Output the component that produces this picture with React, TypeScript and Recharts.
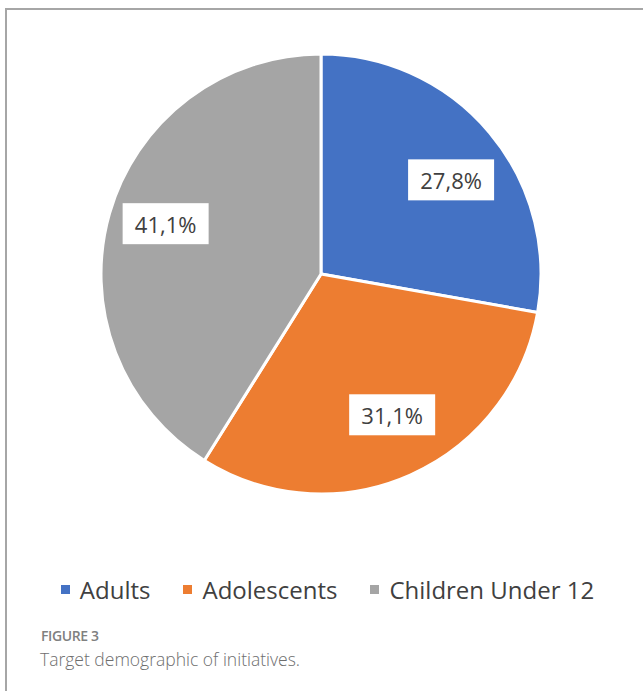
import { Cell, Legend, Pie, PieChart } from "recharts";

const CATEGORIAS = ["Adults", "Adolescents", "Children Under 12"];
const VALORES = [27.8, 31.1, 41.1];
const ETIQUETAS = ["27,8%", "31,1%", "41,1%"];
const COLORES = ["#4472c4", "#ed7d31", "#a5a5a5"];

const FUENTE = "'Open Sans', 'Noto Sans', sans-serif";
const TINTA = "#404040";
const BORDE = "#a6a6a6";

// pequeño corrimiento de cada caja (Excel no las centra exacto en el ángulo medio)
const AJUSTE_ETIQUETA = [
  { dx: 7, dy: 9 },
  { dx: 6, dy: -6 },
  { dx: -1, dy: -6 },
];

const data = CATEGORIAS.map((nombre, i) => ({
  nombre,
  valor: VALORES[i],
  etiqueta: ETIQUETAS[i],
}));

const RAD = Math.PI / 180;

function EtiquetaCaja(props: {
  cx?: number;
  cy?: number;
  midAngle?: number;
  outerRadius?: number;
  index?: number;
}) {
  const { cx = 0, cy = 0, midAngle = 0, outerRadius = 0, index = 0 } = props;
  const r = outerRadius * 0.73;
  const aj = AJUSTE_ETIQUETA[index] ?? { dx: 0, dy: 0 };
  const x = cx + r * Math.cos(-midAngle * RAD) + aj.dx;
  const y = cy + r * Math.sin(-midAngle * RAD) + aj.dy;
  const w = 86;
  const h = 41;
  return (
    <g>
      <rect x={x - w / 2} y={y - h / 2} width={w} height={h} fill="#ffffff" />
      <text
        x={x}
        y={y}
        textAnchor="middle"
        dominantBaseline="central"
        fill={TINTA}
        fontSize={22}
        fontFamily={FUENTE}
      >
        {data[index].etiqueta}
      </text>
    </g>
  );
}

function Leyenda() {
  return (
    <div
      style={{
        display: "flex",
        justifyContent: "center",
        gap: 33,
        fontFamily: FUENTE,
        fontSize: 24,
        color: TINTA,
        marginLeft: 12,
      }}
    >
      {CATEGORIAS.map((c, i) => (
        <span key={c} style={{ display: "flex", alignItems: "center" }}>
          <span
            style={{
              display: "inline-block",
              width: 9,
              height: 9,
              background: COLORES[i],
              marginRight: 10,
            }}
          />
          {c}
        </span>
      ))}
    </div>
  );
}

export default function App() {
  return (
    <div
      style={{
        position: "fixed",
        left: 0,
        top: 0,
        width: 643,
        height: 691,
        overflow: "hidden",
        background: "#ffffff",
      }}
    >
      {/* marco de la figura: solo se ven el borde superior y el izquierdo */}
      <div style={{ position: "absolute", left: 5, top: 8, width: 638, height: 2, background: BORDE }} />
      <div style={{ position: "absolute", left: 5, top: 8, width: 2, height: 683, background: BORDE }} />
      <div style={{ position: "absolute", left: 0, top: 0 }}>
        <PieChart width={643} height={620} margin={{ top: 0, right: 0, bottom: 0, left: 0 }}>
          <Pie
            data={data}
            dataKey="valor"
            nameKey="nombre"
            cx={321}
            cy={274}
            outerRadius={220}
            startAngle={90}
            endAngle={-270}
            stroke="#ffffff"
            strokeWidth={3}
            label={EtiquetaCaja}
            labelLine={false}
            isAnimationActive={false}
          >
            {data.map((d, i) => (
              <Cell key={d.nombre} fill={COLORES[i]} />
            ))}
          </Pie>
          <Legend
            content={<Leyenda />}
            verticalAlign="bottom"
            wrapperStyle={{ top: 573, left: 0, width: 643, bottom: "auto" }}
          />
        </PieChart>
      </div>
      <div
        style={{
          position: "absolute",
          left: 41,
          top: 628,
          fontFamily: FUENTE,
          fontSize: 14,
          fontWeight: 600,
          color: "#808080",
          letterSpacing: -0.4,
          lineHeight: "16px",
        }}
      >
        FIGURE 3
      </div>
      <div
        style={{
          position: "absolute",
          left: 40,
          top: 647,
          fontFamily: FUENTE,
          fontSize: 17.5,
          fontWeight: 300,
          color: "#6e6e6e",
          lineHeight: "24px",
        }}
      >
        Target demographic of initiatives.
      </div>
    </div>
  );
}
